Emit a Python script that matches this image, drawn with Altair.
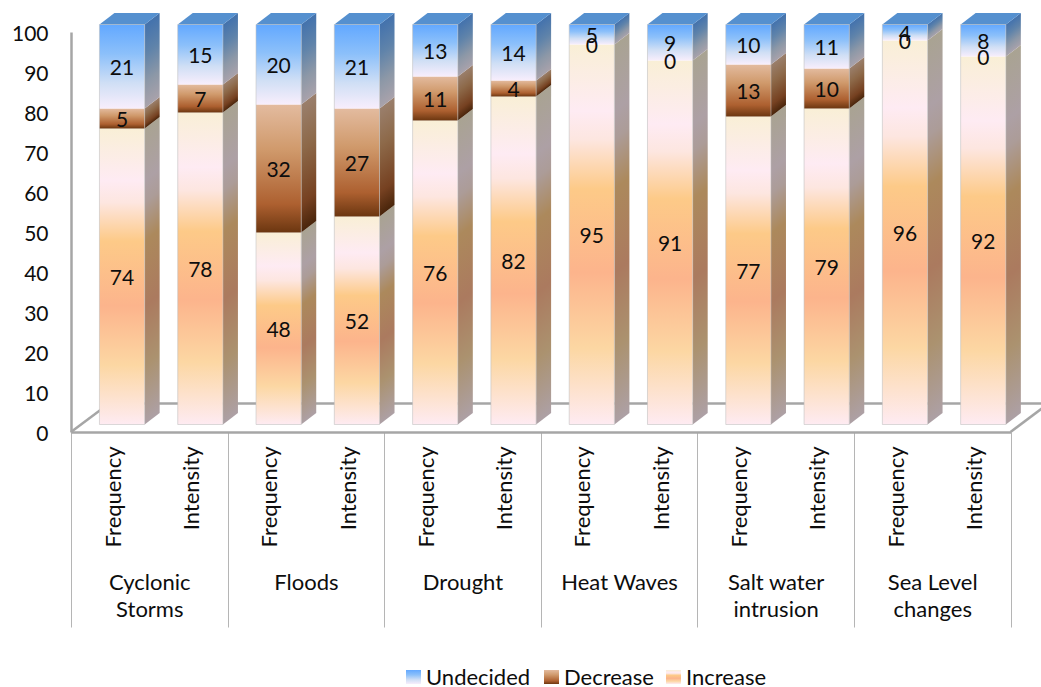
import altair as alt
import pandas as pd

# Survey responses per hazard, one Frequency and one Intensity column each.
hazards = ["Cyclonic\nStorms", "Floods", "Drought", "Heat Waves", "Salt water\nintrusion", "Sea Level\nchanges"]
aspects = ["Frequency", "Intensity"]
increase = [74, 78, 48, 52, 76, 82, 95, 91, 77, 79, 96, 92]
decrease = [5, 7, 32, 27, 11, 4, 0, 0, 13, 10, 0, 0]
undecided = [21, 15, 20, 21, 13, 14, 5, 9, 10, 11, 4, 8]
series_names = ["Increase", "Decrease", "Undecided"]
series_values = [increase, decrease, undecided]

FONT = "Lato"
DIGIT_SIZE = 21
TEXT_SIZE = 22
INK = "#0d0d0d"
FRAME = "#a6a6a6"
SEPARATOR = "#b5b5b5"

# Gradient stops per series, top of segment first.
STOPS = {
    "Increase": [(0, "#f9efd6"), (0.175, "#feebf3"), (0.25, "#fde6e0"), (0.38, "#fdca88"),
                 (0.6, "#fcb48c"), (0.8, "#fcd7a3"), (1, "#feebf2")],
    "Decrease": [(0, "#e3bb9f"), (0.35, "#d09a6c"), (0.78, "#ad6030"), (1, "#6b3610")],
    "Undecided": [(0, "#62a8ff"), (0.35, "#8cc0fa"), (0.7, "#d0dff5"), (1, "#f8eefc")],
}

# Layout of the pseudo-3D box, in axis units (x: one column slot, y: percent points).
PLOT_W, PLOT_H = 939.5, 400
SLOT_PX = PLOT_W / 12
UNIT_PX = PLOT_H / 100
FLOOR_DX, FLOOR_DY = 38.1 / SLOT_PX, 28.5 / UNIT_PX
FRONT_DX, FRONT_DY = 11.9 / SLOT_PX, 7.5 / UNIT_PX
DEPTH_DX, DEPTH_DY = 15 / SLOT_PX, 11.5 / UNIT_PX
BAR_W = 45.2 / SLOT_PX


def shade(color, k=0.68):
    r, g, b = (int(color[i:i + 2], 16) for i in (1, 3, 5))
    return "#%02x%02x%02x" % (round(r * k), round(g * k), round(b * k))


def gradient(name, x2=0, y1=0, y2=1, k=1.0):
    return alt.Gradient(
        gradient="linear", x1=0, x2=x2, y1=y1, y2=y2,
        stops=[alt.GradientStop(offset=o, color=shade(c, k)) for o, c in STOPS[name]],
    )


# Every layer shares these encodings, so the axes survive the layer merge.
X = alt.X("x:Q", scale=alt.Scale(domain=[0, 12], nice=False, zero=False),
          axis=alt.Axis(values=list(range(0, 13, 2)), title=None, labels=False, grid=False,
                        domainColor=FRAME, domainWidth=2.5,
                        tickColor=SEPARATOR, tickWidth=1, tickSize=195))
Y = alt.Y("y:Q", scale=alt.Scale(domain=[0, 100], nice=False, zero=False),
          axis=alt.Axis(values=list(range(0, 101, 10)), title=None, grid=False, ticks=False,
                        domainColor=FRAME, domainWidth=2.5, labelOffset=2,
                        labelFont=FONT, labelFontSize=DIGIT_SIZE, labelColor=INK, labelPadding=23))

# Floor of the box: the real axes form its front edge and left wall edge.
layers = [
    alt.Chart(pd.DataFrame({"x": [FLOOR_DX, 12 + FLOOR_DX], "y": [FLOOR_DY, FLOOR_DY]}))
    .mark_line(color=FRAME, strokeWidth=2.5).encode(x=X, y=Y),
    alt.Chart(pd.DataFrame({"x": [0, FLOOR_DX], "y": [0, FLOOR_DY]}))
    .mark_line(color=FRAME, strokeWidth=2.5).encode(x=X, y=Y),
    alt.Chart(pd.DataFrame({"x": [12, 12 + FLOOR_DX], "y": [0, FLOOR_DY]}))
    .mark_line(color=FRAME, strokeWidth=2.5).encode(x=X, y=Y),
]

label_rows = []

for col in range(12):
    left = col + 0.5 + FRONT_DX - BAR_W / 2
    right = left + BAR_W
    base = 0
    for name, values in zip(series_names, series_values):
        value = values[col]
        low = base + FRONT_DY
        high = base + value + FRONT_DY
        base += value
        label_rows.append({"x": left + BAR_W / 2, "y": (low + high) / 2 - 0.6, "label": str(value)})
        if value == 0:
            continue
        # Side face: a parallelogram, with its gradient running along the slant.
        slant = DEPTH_DY / (value + DEPTH_DY)
        reach = (1 - slant) / (1 + slant ** 2)
        side = pd.DataFrame({
            "x": [right, right + DEPTH_DX],
            "y": [low, low + DEPTH_DY],
            "y2": [high, high + DEPTH_DY],
        })
        layers.append(
            alt.Chart(side)
            .mark_area(color=gradient(name, x2=reach * slant, y1=slant, y2=slant + reach, k=0.68))
            .encode(x=X, y=Y, y2="y2:Q")
        )
        # Front face of the segment (gradient runs top to bottom).
        front = pd.DataFrame({"x": [left], "x2": [right], "y": [high], "y2": [low]})
        layers.append(
            alt.Chart(front).mark_rect(color=gradient(name)).encode(x=X, x2="x2:Q", y=Y, y2="y2:Q")
        )
    # Top cap of the column.
    top = 100 + FRONT_DY
    cap = pd.DataFrame({
        "x": [left, left + DEPTH_DX],
        "x2": [right, right + DEPTH_DX],
        "y": [top, top + DEPTH_DY],
    })
    layers.append(
        alt.Chart(cap).mark_area(orient="horizontal", color="#5590cf").encode(x=X, x2="x2:Q", y=Y)
    )
    # Faint outline of the front face.
    outline = pd.DataFrame({"x": [left], "x2": [right], "y": [top], "y2": [FRONT_DY]})
    layers.append(
        alt.Chart(outline)
        .mark_rect(fill=None, stroke="#bdbdbd", strokeWidth=1, strokeOpacity=0.55)
        .encode(x=X, x2="x2:Q", y=Y, y2="y2:Q")
    )

layers.append(
    alt.Chart(pd.DataFrame(label_rows))
    .mark_text(font=FONT, fontSize=DIGIT_SIZE, color=INK, align="center", baseline="middle")
    .encode(x=X, y=Y, text="label:N")
)

# Two-level category labels under the floor.
aspect_rows = [
    {"x": col + 0.5 + 3.5 / SLOT_PX, "y": -3.6, "label": aspects[col % 2]} for col in range(12)
]
layers.append(
    alt.Chart(pd.DataFrame(aspect_rows))
    .mark_text(font=FONT, fontSize=TEXT_SIZE, color=INK, angle=270, align="right", baseline="middle")
    .encode(x=X, y=Y, text="label:N")
)
hazard_rows = [{"x": 2 * i + 1 + 0.5 / SLOT_PX, "y": -37.8, "label": h} for i, h in enumerate(hazards)]
layers.append(
    alt.Chart(pd.DataFrame(hazard_rows))
    .mark_text(font=FONT, fontSize=TEXT_SIZE, color=INK, align="center", baseline="middle",
               lineBreak="\n", lineHeight=27)
    .encode(x=X, y=Y, text="label:N")
)

# Legend with gradient swatches, placed below the category labels.
ORIGIN_X, ORIGIN_Y = 71, 32
legend_items = [("Undecided", 406), ("Decrease", 544), ("Increase", 666)]
for name, px in legend_items:
    swatch = (
        alt.Chart(pd.DataFrame({"label": [name]}))
        .mark_rect(color=gradient(name))
        .encode(
            x=alt.value(px - ORIGIN_X), x2=alt.value(px + 15 - ORIGIN_X),
            y=alt.value(670 - ORIGIN_Y), y2=alt.value(684 - ORIGIN_Y),
        )
    )
    text = (
        alt.Chart(pd.DataFrame({"label": [name]}))
        .mark_text(font=FONT, fontSize=TEXT_SIZE, color=INK, align="left", baseline="middle")
        .encode(x=alt.value(px + 20 - ORIGIN_X), y=alt.value(678 - ORIGIN_Y), text="label:N")
    )
    layers += [swatch, text]

chart = (
    alt.layer(*layers)
    .resolve_scale(x="shared", y="shared")
    .properties(
        width=PLOT_W, height=PLOT_H,
        padding={"left": ORIGIN_X, "top": ORIGIN_Y, "right": 1041 - ORIGIN_X - PLOT_W, "bottom": 687 - ORIGIN_Y - PLOT_H},
        autosize=alt.AutoSizeParams(type="none"),
        background="white",
    )
    .configure_view(stroke=None)
)

chart.save("out.html", embed_options={"renderer": "svg", "actions": False})
